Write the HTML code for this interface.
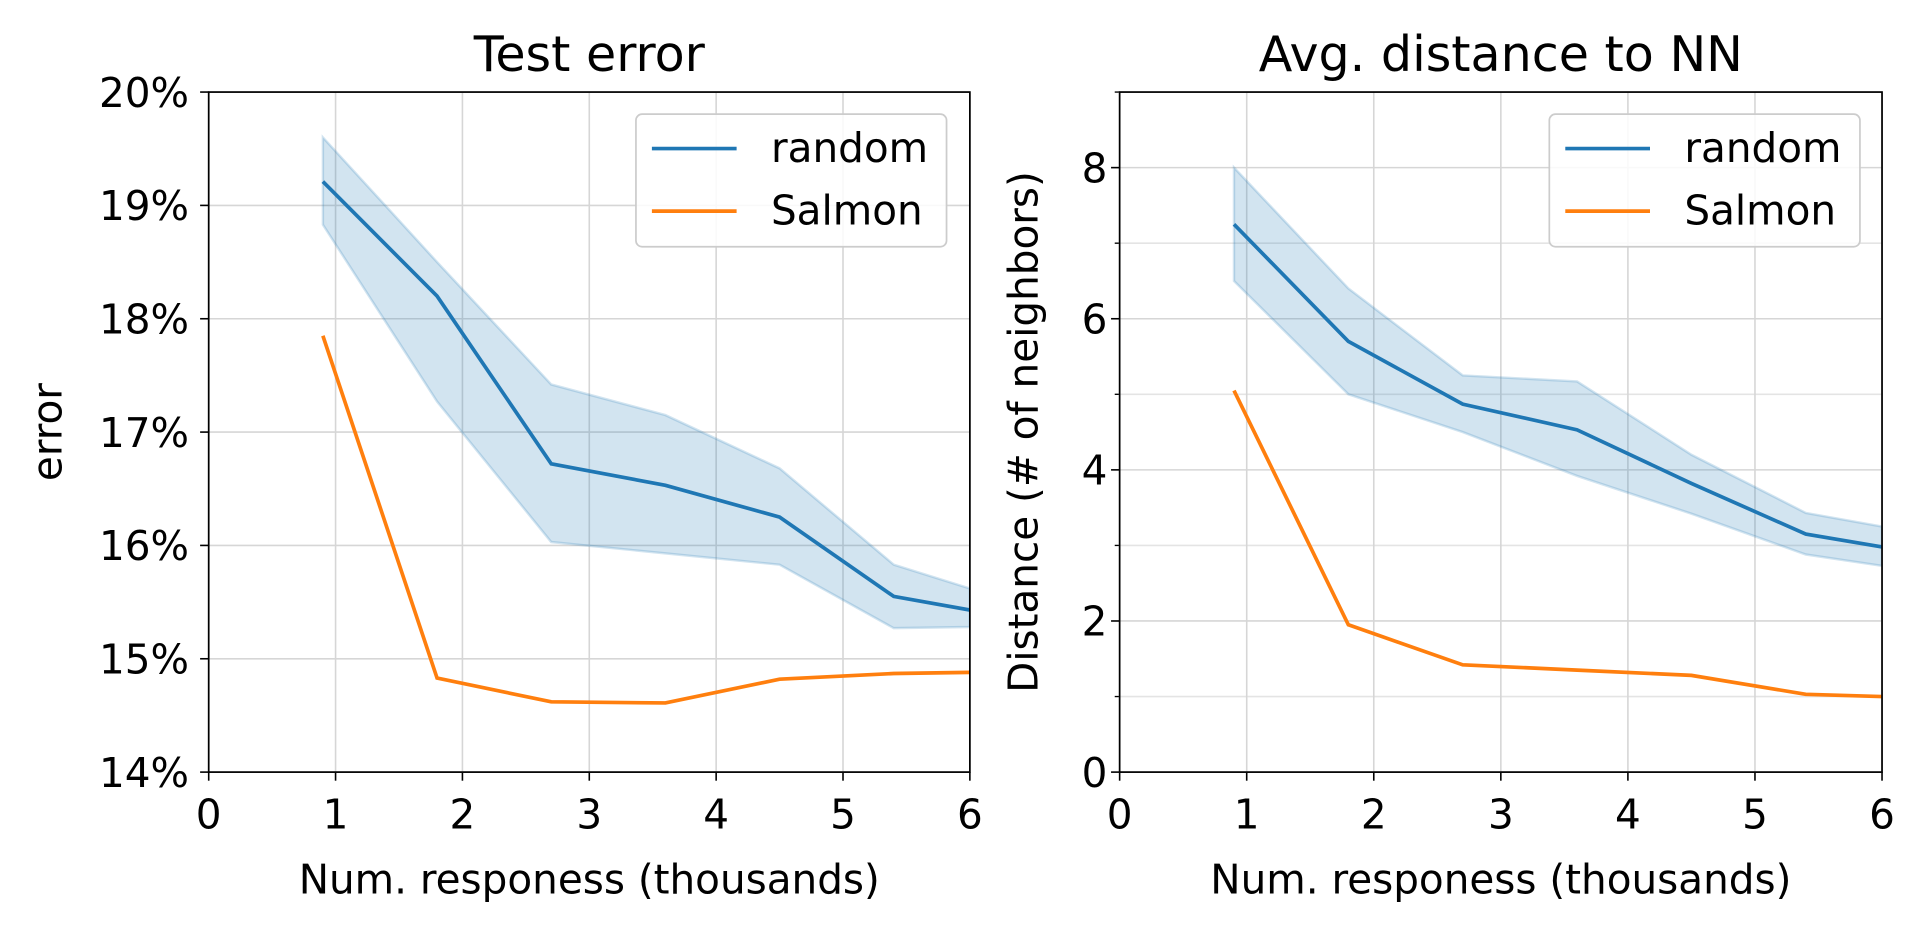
<!DOCTYPE html>
<html><head><meta charset="utf-8"><style>
html,body{margin:0;padding:0;background:#fff;}
svg{display:block;font-family:"DejaVu Sans","Liberation Sans",sans-serif;}
</style></head><body>
<svg id="chart" width="1925" height="928" viewBox="0 0 1568 756" preserveAspectRatio="none"></svg>
<script>
const xs = [0.9, 1.8, 2.7, 3.6, 4.5, 5.4, 6.0];
const errRandom = [19.21, 18.2, 16.72, 16.53, 16.25, 15.55, 15.43];
const errRandomHi = [19.6, 18.5, 17.42, 17.15, 16.68, 15.83, 15.62];
const errRandomLo = [18.83, 17.27, 16.03, 15.93, 15.83, 15.27, 15.28];
const errSalmon = [17.85, 14.83, 14.62, 14.61, 14.82, 14.87, 14.88];
const distRandom = [7.25, 5.7, 4.87, 4.53, 3.82, 3.15, 2.98];
const distRandomHi = [8.0, 6.4, 5.25, 5.17, 4.2, 3.43, 3.25];
const distRandomLo = [6.5, 5.0, 4.5, 3.92, 3.42, 2.88, 2.73];
const distSalmon = [5.05, 1.95, 1.42, 1.35, 1.28, 1.03, 1.0];
const xTicks = [0,1,2,3,4,5,6];
const errTicks = [14,15,16,17,18,19,20];
const distTicks = [0,2,4,6,8];
const distMinor = [1,3,5,7,9];

const NS = "http://www.w3.org/2000/svg";
const svg = document.getElementById("chart");
function mk(tag, attrs, parent, text){
  const e = document.createElementNS(NS, tag);
  for (const k in attrs) e.setAttribute(k, attrs[k]);
  if (text !== undefined) e.textContent = text;
  (parent||svg).appendChild(e);
  return e;
}
function panel(o){
  const g = mk("g", {});
  
  
  const X = v => o.x0 + (v - 0) / 6 * (o.x1 - o.x0);
  const Y = v => o.y0 - (v - o.ymin) / (o.ymax - o.ymin) * (o.y0 - o.y1);
  (o.minor||[]).forEach(v=>{
    const l = mk("line",{x1:o.x0,x2:o.x1,y1:Y(v),y2:Y(v),stroke:"#e4e4e4","stroke-width":1.3},g);
    
    
    const t = mk("line",{x1:o.x0-4,x2:o.x0,y1:Y(v),y2:Y(v),stroke:"#000","stroke-width":1.1},g);
    
    
  });
  xTicks.forEach(v=>{
    const l = mk("line",{x1:X(v),x2:X(v),y1:o.y1,y2:o.y0,stroke:"#d6d6d6","stroke-width":1.3},g);
    
    
    const t = mk("line",{x1:X(v),x2:X(v),y1:o.y0,y2:o.y0+7,stroke:"#000","stroke-width":1.3},g);
    
    
    const lb = mk("text",{x:X(v),y:o.y0+46,"text-anchor":"middle","font-size":33},g,String(v));
    
    
  });
  o.yticks.forEach(v=>{
    const l = mk("line",{x1:o.x0,x2:o.x1,y1:Y(v),y2:Y(v),stroke:"#d6d6d6","stroke-width":1.3},g);
    
    
    const t = mk("line",{x1:o.x0-7,x2:o.x0,y1:Y(v),y2:Y(v),stroke:"#000","stroke-width":1.3},g);
    
    
    const lb = mk("text",{x:o.x0-o.tgap,y:Y(v)+12,"text-anchor":"end","font-size":33},g,o.fmt(v));
    
    
  });
  const cid = o.name+"-clip";
  const cp = mk("clipPath",{id:cid},g);
  mk("rect",{x:o.x0,y:o.y1,width:o.x1-o.x0,height:o.y0-o.y1},cp);
  const pg = mk("g",{"clip-path":"url(#"+cid+")"},g);
  let band = xs.map((x,i)=>X(x)+","+Y(o.hi[i])).join(" ")+" "+xs.map((x,i)=>X(x)+","+Y(o.lo[i])).reverse().join(" ");
  const b = mk("polygon",{points:band,fill:"#1f77b4","fill-opacity":0.2,stroke:"#1f77b4","stroke-opacity":0.2,"stroke-width":2},pg);
  
  
  const lr = mk("polyline",{points:xs.map((x,i)=>X(x)+","+Y(o.rand[i])).join(" "),fill:"none",stroke:"#1f77b4","stroke-width":3},pg);
  
  
  const ls = mk("polyline",{points:xs.map((x,i)=>X(x)+","+Y(o.salmon[i])).join(" "),fill:"none",stroke:"#ff7f0e","stroke-width":3},pg);
  
  
  const fr = mk("rect",{x:o.x0,y:o.y1,width:o.x1-o.x0,height:o.y0-o.y1,fill:"none",stroke:"#000","stroke-width":1.4},g);
  
  
  const ti = mk("text",{x:(o.x0+o.x1)/2,y:58,"text-anchor":"middle","font-size":40},g,o.title);
  
  
  const xl = mk("text",{x:(o.x0+o.x1)/2,y:728,"text-anchor":"middle","font-size":33},g,"Num. responess (thousands)");
  
  
  const yl = mk("text",{x:0,y:0,"text-anchor":"middle","font-size":33,transform:"translate("+o.ylx+","+((o.y0+o.y1)/2)+") rotate(-90)"},g,o.ylabel);
  
  
  const lg = mk("g",{},g);
  
  
  mk("rect",{x:o.lx,y:93,width:253,height:108,rx:5,fill:"#fff","fill-opacity":0.85,stroke:"#ccc","stroke-width":1.4},lg);
  [["random","#1f77b4",121],["Salmon","#ff7f0e",172]].forEach(([n,c,yy])=>{
    const e = mk("g",{},lg);
    
    
    mk("line",{x1:o.lx+13,x2:o.lx+82,y1:yy,y2:yy,stroke:c,"stroke-width":3},e);
    mk("text",{x:o.lx+110,y:yy+11,"font-size":33},e,n);
  });
}
panel({name:"test-error-panel",x0:170,x1:790,y0:629,y1:75,ymin:14,ymax:20,yticks:errTicks,tgap:16,
  fmt:v=>v+"%",hi:errRandomHi,lo:errRandomLo,rand:errRandom,salmon:errSalmon,
  title:"Test error",ylabel:"error",ylx:50,lx:518});
panel({name:"distance-panel",x0:912,x1:1533,y0:629,y1:75,ymin:0,ymax:9,yticks:distTicks,minor:distMinor,tgap:10,
  fmt:v=>String(v),hi:distRandomHi,lo:distRandomLo,rand:distRandom,salmon:distSalmon,
  title:"Avg. distance to NN",ylabel:"Distance (# of neighbors)",ylx:845,lx:1262});
</script>
</body></html>
